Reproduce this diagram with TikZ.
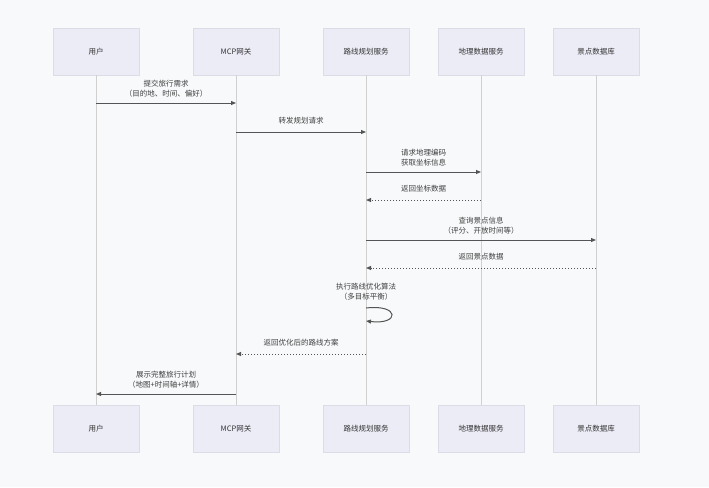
\documentclass[tikz,border=0pt]{standalone}
\usepackage{fontspec}
\setmainfont{Noto Sans CJK SC}
\usetikzlibrary{arrows.meta}
\definecolor{bg}{HTML}{F7F9FA}
\definecolor{boxf}{HTML}{ECECF7}
\definecolor{boxd}{HTML}{DCDCE6}
\definecolor{lifel}{HTML}{D0D0D0}
\definecolor{arr}{HTML}{555555}
\begin{document}
\begin{tikzpicture}[x=1pt,y=-1pt,
  actor/.style={draw=boxd,fill=boxf,minimum width=86pt,minimum height=47pt,font=\fontsize{7.5}{9}\selectfont,text=black!80},
  msg/.style={draw=arr,line width=1pt,-{Triangle[length=5pt,width=4pt]}},
  ret/.style={msg,dotted},
  lbl/.style={font=\fontsize{7.5}{10}\selectfont,align=center,text=black!75}]
\fill[bg] (0,0) rectangle (709,487);
\useasboundingbox (0,0) rectangle (709,487);
\foreach \n/\x/\t in {u/96/用户,g/236/MCP网关,r/366/路线规划服务,d/481/地理数据服务,s/596/景点数据库}{
  \node[actor] (\n t) at (\x,51.5) {\t};
  \node[actor] (\n b) at (\x,428.5) {\t};
  \draw[lifel,line width=0.8pt] (\n t) -- (\n b);
}
\coordinate (u1) at (96,103); \coordinate (g1) at (236,103);
\draw[msg] (u1) -- (g1) node[lbl,midway,above=2pt] {提交旅行需求\\（目的地、时间、偏好）};
\coordinate (g2) at (236,132); \coordinate (r2) at (366,132);
\draw[msg] (g2) -- (r2) node[lbl,midway,above=4pt] {转发规划请求};
\coordinate (r3) at (366,172); \coordinate (d3) at (481,172);
\draw[msg] (r3) -- (d3) node[lbl,midway,above=2pt] {请求地理编码\\获取坐标信息};
\coordinate (d4) at (481,200); \coordinate (r4) at (366,200);
\draw[ret] (d4) -- (r4) node[lbl,midway,above=4pt] {返回坐标数据};
\coordinate (r5) at (366,240); \coordinate (s5) at (596,240);
\draw[msg] (r5) -- (s5) node[lbl,midway,above=2pt] {查询景点信息\\（评分、开放时间等）};
\coordinate (s6) at (596,268); \coordinate (r6) at (366,268);
\draw[ret] (s6) -- (r6) node[lbl,midway,above=4pt] {返回景点数据};
\coordinate (r7a) at (366,308); \coordinate (r7b) at (366,321);
\node[lbl] (l7) at (366,292) {执行路线优化算法\\（多目标平衡）};
\draw[msg] (r7a) .. controls (400,304) and (400,325) .. (r7b);
\coordinate (r8) at (366,354); \coordinate (g8) at (236,354);
\draw[ret] (r8) -- (g8) node[lbl,midway,above=4pt] {返回优化后的路线方案};
\coordinate (g9) at (236,394); \coordinate (u9) at (96,394);
\draw[msg] (g9) -- (u9) node[lbl,midway,above=2pt] {展示完整旅行计划\\（地图+时间轴+详情）};
\end{tikzpicture}
\end{document}
